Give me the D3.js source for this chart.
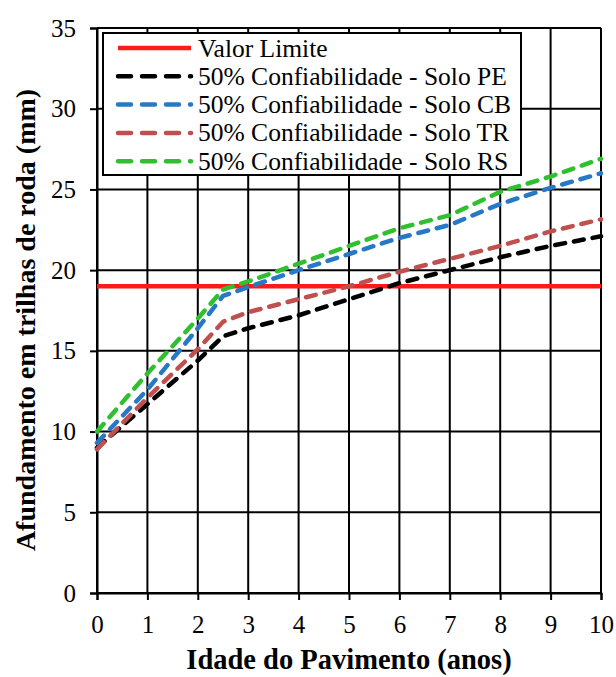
<!DOCTYPE html>
<html>
<head>
<meta charset="utf-8">
<script src="https://cdn.jsdelivr.net/npm/d3@7"></script>
<style>
  body { margin: 0; background: #fff; }
  text { font-family: "Liberation Serif", "Times New Roman", serif; fill: #000; }
</style>
</head>
<body>
<script>
// years on the x axis
var years = [0, 1, 2, 2.5, 3, 4, 5, 6, 7, 8, 9, 10];
// rut depth (mm)
var limite = 19;
var soloPE = [9.0, 11.7, 14.4, 15.9, 16.4, 17.2, 18.2, 19.2, 20.0, 20.8, 21.5, 22.1];
var soloCB = [9.3, 12.6, 16.4, 18.4, 18.95, 20.0, 21.0, 22.0, 22.8, 24.1, 25.1, 26.0];
var soloTR = [8.9, 12.1, 15.1, 16.8, 17.4, 18.2, 19.0, 19.9, 20.7, 21.5, 22.4, 23.15];
var soloRS = [10.0, 13.6, 17.0, 18.8, 19.3, 20.4, 21.5, 22.6, 23.4, 24.85, 25.8, 26.9];

var xTicks = [0, 1, 2, 3, 4, 5, 6, 7, 8, 9, 10];
var yTicks = [0, 5, 10, 15, 20, 25, 30, 35];

var legendNames = ["Valor Limite",
    "50% Confiabilidade - Solo PE",
    "50% Confiabilidade - Solo CB",
    "50% Confiabilidade - Solo TR",
    "50% Confiabilidade - Solo RS"];
var colors = ["#ff1a1a", "#000000", "#2878c8", "#c0504d", "#2fbf2f"];

var W = 616, H = 677;
var margin = {top: 28, right: 15, bottom: 84, left: 97};

var svg = d3.select("body").append("svg")
    .attr("width", W)
    .attr("height", H);

var x = d3.scaleLinear().domain([0, 10]).range([margin.left, W - margin.right]);
var y = d3.scaleLinear().domain([0, 35]).range([H - margin.bottom, margin.top]);

// grid
svg.append("g").selectAll("line.vx")
    .data(xTicks).enter().append("line")
    .attr("x1", d => x(d)).attr("x2", d => x(d))
    .attr("y1", y(0)).attr("y2", y(35))
    .attr("stroke", "#000").attr("stroke-width", 2);
svg.append("g").selectAll("line.hy")
    .data(yTicks).enter().append("line")
    .attr("x1", x(0)).attr("x2", x(10))
    .attr("y1", d => y(d)).attr("y2", d => y(d))
    .attr("stroke", "#000").attr("stroke-width", 2);

// axes
var xAxis = svg.append("g")
    .attr("transform", "translate(0," + y(0) + ")")
    .call(d3.axisBottom(x).tickValues(xTicks).tickSize(7).tickPadding(15));
var yAxis = svg.append("g")
    .attr("transform", "translate(" + x(0) + ",0)")
    .call(d3.axisLeft(y).tickValues(yTicks).tickSize(7).tickPadding(14));
[xAxis, yAxis].forEach(function(a) {
    a.select(".domain").attr("stroke-width", 2);
    a.selectAll(".tick line").attr("stroke-width", 2);
    a.selectAll("text").attr("font-size", 25)
        .style("font-family", '"Liberation Serif", serif');
});

// lines
var line = d3.line()
    .x(d => x(d[0]))
    .y(d => y(d[1]));

svg.append("path")
    .datum([[0, limite], [10, limite]])
    .attr("d", line)
    .attr("fill", "none")
    .attr("stroke", colors[0])
    .attr("stroke-width", 4.5);

var series = [soloPE, soloCB, soloTR, soloRS];
series.forEach(function(vals, i) {
    svg.append("path")
        .datum(years.map((t, j) => [t, vals[j]]))
        .attr("d", line)
        .attr("fill", "none")
        .attr("stroke", colors[i + 1])
        .attr("stroke-width", 4.5)
        .attr("stroke-linecap", "round")
        .attr("stroke-dasharray", "10,9");
});

// legend
var lg = svg.append("g");
lg.append("rect")
    .attr("x", 103).attr("y", 33)
    .attr("width", 418).attr("height", 142)
    .attr("fill", "#fff").attr("stroke", "#000").attr("stroke-width", 2);
legendNames.forEach(function(name, i) {
    var ly = 48 + i * 28.3;
    lg.append("line")
        .attr("x1", 118).attr("x2", 191)
        .attr("y1", ly).attr("y2", ly)
        .attr("stroke", colors[i])
        .attr("stroke-width", 4.5)
        .attr("stroke-linecap", i == 0 ? "butt" : "round")
        .attr("stroke-dasharray", i == 0 ? null : "13,11");
    lg.append("text")
        .attr("x", 198).attr("y", ly + 8.5)
        .attr("font-size", 25.5)
        .text(name);
});

// axis titles
svg.append("text")
    .attr("x", (x(0) + x(10)) / 2)
    .attr("y", 669)
    .attr("text-anchor", "middle")
    .attr("font-size", 28.5)
    .attr("font-weight", "bold")
    .text("Idade do Pavimento (anos)");

svg.append("text")
    .attr("transform", "translate(35," + 320 + ") rotate(-90)")
    .attr("text-anchor", "middle")
    .attr("font-size", 28)
    .attr("font-weight", "bold")
    .text("Afundamento em trilhas de roda (mm)");
</script>
</body>
</html>
